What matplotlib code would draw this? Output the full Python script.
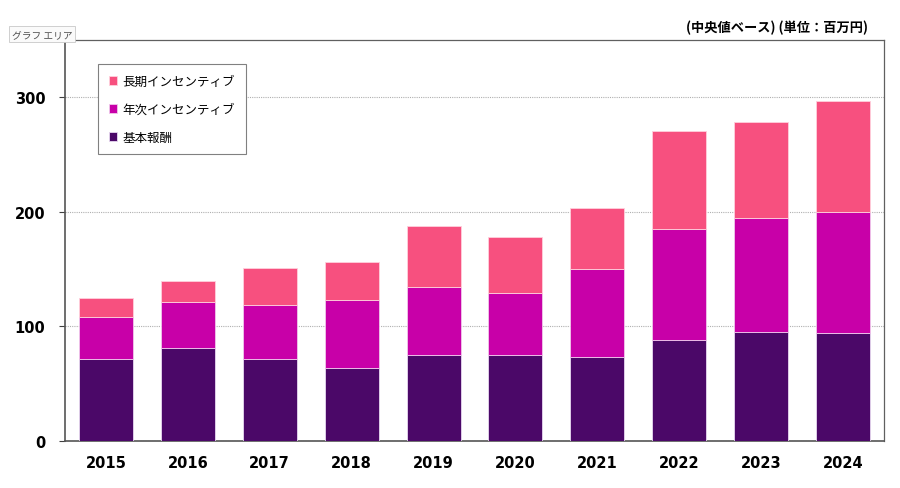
import matplotlib
matplotlib.use("Agg")
import matplotlib.pyplot as plt
import numpy as np

plt.rcParams['font.family'] = ['Noto Sans CJK JP', 'DejaVu Sans']

# データ（中央値ベース、単位：百万円）
years = ['2015', '2016', '2017', '2018', '2019', '2020', '2021', '2022', '2023', '2024']
base_pay = [72, 81, 72, 64, 75, 75, 73, 88, 95, 94]           # 基本報酬
annual_inc = [36, 40, 47, 59, 59, 54, 77, 97, 100, 106]      # 年次インセンティブ
long_inc = [17, 19, 32, 33, 54, 49, 53, 86, 83, 97]          # 長期インセンティブ

c_base = '#4B0868'
c_annual = '#C800A8'
c_long = '#F7507F'

fig = plt.figure(figsize=(9, 4.89), dpi=100)
ax = fig.add_axes([65 / 900, 47 / 489, 819 / 900, 401 / 489])

x = np.arange(len(years))
w = 0.66
base_arr = np.array(base_pay)
ann_arr = np.array(annual_inc)

b1 = ax.bar(x, base_pay, w, color=c_base, edgecolor='#E8D8F0', linewidth=0.6, zorder=3)
b2 = ax.bar(x, annual_inc, w, bottom=base_arr, color=c_annual, edgecolor='#F0C8EC', linewidth=0.6, zorder=3)
b3 = ax.bar(x, long_inc, w, bottom=base_arr + ann_arr, color=c_long, edgecolor='#FFD0DC', linewidth=0.6, zorder=3)

ax.set_xlim(-0.5, len(years) - 0.5)
ax.set_ylim(0, 350)
ax.set_yticks([0, 100, 200, 300])
ax.set_xticks(x)
ax.set_xticklabels(years)
ax.yaxis.grid(True, linestyle=(0, (1, 1)), color='#B0B0B0', linewidth=0.8, zorder=0)

for lab in ax.get_xticklabels() + ax.get_yticklabels():
    lab.set_fontweight('bold')
    lab.set_fontsize(10.5)
    lab.set_family('DejaVu Sans')
ax.tick_params(axis='x', length=0, pad=10)
ax.tick_params(axis='y', length=4, width=0.8, color='#404040', pad=10, direction='out')

for s in ['left', 'bottom']:
    ax.spines[s].set_color('#555555')
    ax.spines[s].set_linewidth(1.2)
for s in ['top', 'right']:
    ax.spines[s].set_color('#606060')
    ax.spines[s].set_linewidth(0.9)

# 凡例（上から 長期 → 年次 → 基本）
leg = ax.legend([b3, b2, b1], ['長期インセンティブ', '年次インセンティブ', '基本報酬'],
                loc='upper left', bbox_to_anchor=(98 / 900, 1 - 65 / 489),
                bbox_transform=fig.transFigure, borderaxespad=0,
                fancybox=False, edgecolor='#808080', framealpha=1,
                fontsize=9, labelspacing=1.2, handlelength=0.7, handleheight=0.7,
                handletextpad=0.4, borderpad=0.85)
leg.get_frame().set_linewidth(0.8)
leg.set_zorder(5)

fig.text(868 / 900, 1 - 28 / 489, '(中央値ベース) (単位：百万円)', ha='right', va='center',
         fontsize=9.5, fontweight='bold')

fig.text(42 / 900, 1 - 35 / 489, 'グラフ エリア', ha='center', va='center', fontsize=7,
         color='#505050',
         bbox=dict(boxstyle='square,pad=0.3', facecolor='#FAFAFA', edgecolor='#C8C8C8', linewidth=0.6))

fig.savefig('out.png', dpi=100)
